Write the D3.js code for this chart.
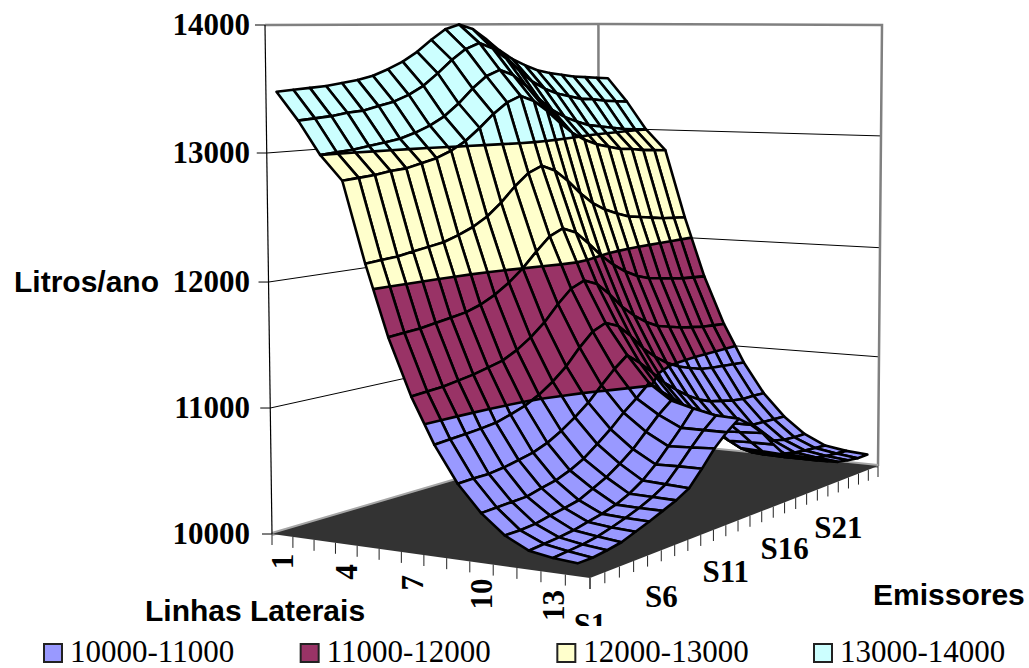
<!DOCTYPE html>
<html>
<head>
<meta charset="utf-8">
<script src="https://cdnjs.cloudflare.com/ajax/libs/d3/7.8.5/d3.min.js"></script>
<style>
  html, body { margin: 0; padding: 0; background: #fff; }
  svg { display: block; }
  .num { font-family: "Liberation Serif", "Times New Roman", serif; }
  .title { font-family: "Liberation Sans", Arial, sans-serif; font-weight: bold; }
</style>
</head>
<body>
<svg id="chart" width="1029" height="668"></svg>
<script>
// Litres per year for each lateral line (rows) and emitter position (columns S1..S25)
const lines = d3.range(1, 15);
const emitters = d3.range(1, 26);
const lineLabels = [1, 4, 7, 10, 13];
const emitterLabels = [1, 6, 11, 16, 21];
const valueTicks = [10000, 11000, 12000, 13000, 14000];
const bandNames = ["10000-11000", "11000-12000", "12000-13000", "13000-14000"];
const bandColors = ["#9999FF", "#993366", "#FFFFCC", "#CCFFFF"];

const litres = [
  [13480,13490,13500,13510,13530,13550,13580,13630,13690,13770,13870,13960,14000,13960,13870,13770,13690,13630,13580,13550,13530,13510,13500,13490,13480],
  [13260,13270,13280,13300,13310,13340,13370,13420,13490,13590,13700,13790,13840,13790,13700,13590,13490,13420,13370,13340,13310,13300,13280,13270,13260],
  [13000,13010,13020,13040,13060,13080,13120,13170,13240,13340,13460,13560,13610,13560,13460,13340,13240,13170,13120,13080,13060,13040,13020,13010,13000],
  [12810,12820,12830,12850,12860,12890,12920,12970,13040,13140,13250,13340,13390,13340,13250,13140,13040,12970,12920,12890,12860,12850,12830,12820,12810],
  [12190,12200,12210,12230,12250,12270,12310,12360,12430,12530,12650,12750,12800,12750,12650,12530,12430,12360,12310,12270,12250,12230,12210,12200,12190],
  [11640,11650,11660,11680,11700,11720,11760,11820,11900,12000,12120,12230,12280,12230,12120,12000,11900,11820,11760,11720,11700,11680,11660,11650,11640],
  [11200,11210,11220,11240,11260,11290,11320,11380,11460,11560,11690,11800,11850,11800,11690,11560,11460,11380,11320,11290,11260,11240,11220,11210,11200],
  [10850,10860,10870,10880,10895,10930,10970,11030,11110,11210,11340,11450,11500,11450,11340,11210,11110,11030,10970,10930,10895,10880,10870,10860,10850],
  [10575,10580,10580,10595,10620,10645,10690,10755,10835,10925,11040,11150,11240,11150,11040,10925,10835,10755,10690,10645,10620,10595,10580,10580,10575],
  [10375,10380,10385,10390,10420,10445,10490,10550,10635,10725,10830,10920,11020,10920,10830,10725,10635,10550,10490,10445,10420,10390,10385,10380,10375],
  [10230,10230,10240,10265,10285,10310,10365,10420,10495,10580,10690,10800,10890,10800,10690,10580,10495,10420,10365,10310,10285,10265,10240,10230,10230],
  [10140,10150,10160,10175,10200,10225,10260,10310,10380,10475,10590,10710,10840,10710,10590,10475,10380,10310,10260,10225,10200,10175,10160,10150,10140],
  [10110,10120,10130,10150,10180,10215,10255,10305,10370,10480,10600,10710,10800,10710,10600,10480,10370,10305,10255,10215,10180,10150,10130,10120,10110],
  [10095,10095,10110,10130,10170,10210,10255,10300,10360,10480,10610,10710,10790,10710,10610,10480,10360,10300,10255,10210,10170,10130,10110,10095,10095]
];

// Floor corners of the 3D box on screen and the box height above each corner
const floorLeft = [272, 534], floorFront = [590, 578], floorBack = [599, 438], floorRight = [878, 466];
const heightLeft = 509, heightFront = 552, heightBack = 414, heightRight = 441;
const vanishX = 637, verticalConvergence = 1 / 26500;

// Unit square to quadrilateral homography for the floor plane
function floorHomography(p00, p10, p11, p01) {
  const dx1 = p10[0] - p11[0], dx2 = p01[0] - p11[0], sx = p00[0] - p10[0] + p11[0] - p01[0];
  const dy1 = p10[1] - p11[1], dy2 = p01[1] - p11[1], sy = p00[1] - p10[1] + p11[1] - p01[1];
  const det = dx1 * dy2 - dx2 * dy1;
  const g = (sx * dy2 - dx2 * sy) / det, h = (dx1 * sy - sx * dy1) / det;
  const a = p10[0] - p00[0] + g * p10[0], b = p01[0] - p00[0] + h * p01[0], c = p00[0];
  const d = p10[1] - p00[1] + g * p10[1], e = p01[1] - p00[1] + h * p01[1], f = p00[1];
  return (u, v) => {
    const w = g * u + h * v + 1;
    return [(a * u + b * v + c) / w, (d * u + e * v + f) / w];
  };
}
const onFloor = floorHomography(floorLeft, floorFront, floorRight, floorBack);

// Lateral lines sit in the middle of their cells, emitters run edge to edge
const uScale = d3.scaleLinear().domain([0.5, 14.5]).range([0, 1]);
const vScale = d3.scaleLinear().domain([1, 25]).range([0, 1]);
// The height axis is very slightly foreshortened towards its middle
const zScale = d3.scaleLinear().domain(valueTicks).range([0, 0.2475, 0.495, 0.7485, 1]);

function project(line, emitter, value) {
  const u = uScale(line), v = vScale(emitter), z = zScale(value);
  const [fx, fy] = onFloor(u, v);
  const inv = (1 - u) * (1 - v) / heightLeft + u * (1 - v) / heightFront + (1 - u) * v / heightBack + u * v / heightRight;
  const h = 1 / inv;
  const lean = (fx - vanishX) * h * verticalConvergence;
  return [fx + lean * z, fy - h * z];
}

const svg = d3.select("#chart");
const path = d3.line();
const closed = pts => path(pts) + "Z";

// Walls: gridlines first, then the frame
const wall = svg.append("g");
const lastLine = 14.5, firstLine = 0.5;
[11000, 12000, 13000].forEach(t => {
  wall.append("path").attr("d", path([project(firstLine, 1, t), project(firstLine, 25, t), project(lastLine, 25, t)]))
    .attr("fill", "none").attr("stroke", "#000").attr("stroke-width", 1);
});
wall.append("path")
  .attr("d", path([project(firstLine, 1, 14000), project(firstLine, 25, 14000), project(lastLine, 25, 14000), project(lastLine, 25, 10000)]))
  .attr("fill", "none").attr("stroke", "#808080").attr("stroke-width", 2.5);
wall.append("path")
  .attr("d", path([project(firstLine, 25, 14000), project(firstLine, 25, 10000)]))
  .attr("fill", "none").attr("stroke", "#808080").attr("stroke-width", 2.5);

// Floor with its lighter back rim
const floorPts = [project(firstLine, 1, 10000), project(lastLine, 1, 10000), project(lastLine, 25, 10000), project(firstLine, 25, 10000)];
svg.append("path").attr("d", path([floorPts[0], floorPts[3], floorPts[2]]))
  .attr("fill", "none").attr("stroke", "#a6a6a6").attr("stroke-width", 4);
svg.append("path").attr("d", closed(floorPts)).attr("fill", "#333333");

// Value axis
const axis = svg.append("g");
axis.append("path").attr("d", path([project(firstLine, 1, 14000), project(firstLine, 1, 10000)]))
  .attr("stroke", "#000").attr("stroke-width", 1.2).attr("fill", "none");
valueTicks.forEach(t => {
  const [x, y] = project(firstLine, 1, t);
  axis.append("line").attr("x1", x - 10).attr("x2", x).attr("y1", y).attr("y2", y).attr("stroke", "#000");
  axis.append("text").attr("class", "num").attr("x", 250).attr("y", y + 10)
    .attr("text-anchor", "end").attr("font-size", 31).attr("font-weight", "bold").text(t);
});

// Tick marks along the two floor edges
const ticks = svg.append("g").attr("stroke", "#222").attr("stroke-width", 1);
d3.range(0, 15).forEach(i => {
  const [x, y] = project(i + 0.5, 1, 10000);
  ticks.append("line").attr("x1", x).attr("x2", x).attr("y1", y).attr("y2", y + 11);
});
emitters.forEach(s => {
  const [x, y] = project(lastLine, s, 10000);
  ticks.append("line").attr("x1", x).attr("x2", x).attr("y1", y).attr("y2", y + 11);
});

// Surface cells painted from the far corner towards the viewer, split by value band
const levels = d3.range(4).map(i => [valueTicks[i], valueTicks[i + 1]]);

function clipToBand(poly, lo, hi) {
  const clip = (pts, inside, level) => {
    const out = [];
    pts.forEach((p, i) => {
      const q = pts[(i + 1) % pts.length];
      const pin = inside(p[2]), qin = inside(q[2]);
      if (pin) out.push(p);
      if (pin !== qin) {
        const t = (level - p[2]) / (q[2] - p[2]);
        out.push([p[0] + t * (q[0] - p[0]), p[1] + t * (q[1] - p[1]), level]);
      }
    });
    return out;
  };
  const a = clip(poly, z => z >= lo, lo);
  return a.length ? clip(a, z => z <= hi, hi) : a;
}

function crossings(poly, level) {
  const pts = [];
  poly.forEach((p, i) => {
    const q = poly[(i + 1) % poly.length];
    if ((p[2] < level) !== (q[2] < level)) {
      const t = (level - p[2]) / (q[2] - p[2]);
      pts.push([p[0] + t * (q[0] - p[0]), p[1] + t * (q[1] - p[1])]);
    }
  });
  return pts;
}

const cells = [];
d3.range(0, lines.length - 1).forEach(r => {
  d3.range(emitters.length - 2, -1, -1).forEach(c => {
    const corner = (ri, ci) => {
      const value = litres[ri][ci];
      return [...project(lines[ri], emitters[ci], value), value];
    };
    cells.push([corner(r, c), corner(r + 1, c), corner(r + 1, c + 1), corner(r, c + 1)]);
  });
});

const surface = svg.append("g").selectAll("g").data(cells).join("g");
surface.each(function (poly) {
  const g = d3.select(this);
  levels.forEach(([lo, hi], i) => {
    const piece = clipToBand(poly, lo, hi);
    if (piece.length > 2) {
      g.append("path").attr("d", closed(piece.map(p => [p[0], p[1]])))
        .attr("fill", bandColors[i]).attr("stroke", bandColors[i]).attr("stroke-width", 0.6);
    }
  });
  [11000, 12000, 13000].forEach(level => {
    const pts = crossings(poly, level);
    for (let k = 0; k + 1 < pts.length; k += 2) {
      g.append("path").attr("d", path([pts[k], pts[k + 1]]))
        .attr("fill", "none").attr("stroke", "#000").attr("stroke-width", 2.6);
    }
  });
  g.append("path").attr("d", closed(poly.map(p => [p[0], p[1]])))
    .attr("fill", "none").attr("stroke", "#000").attr("stroke-width", 2.6).attr("stroke-linejoin", "round");
});

// Category labels under the floor edges
lineLabels.forEach(l => {
  const [x, y] = project(l, 1, 10000);
  const cy = y + 26 + (l - 1) * 0.55;
  svg.append("text").attr("class", "num").attr("font-size", 31).attr("font-weight", "bold")
    .attr("text-anchor", "middle").attr("dominant-baseline", "central")
    .attr("transform", `translate(${x},${cy}) rotate(-90)`).text(l);
});
emitterLabels.forEach(s => {
  const [x, y] = project(lastLine, s, 10000);
  svg.append("text").attr("class", "num").attr("font-size", 31).attr("font-weight", "bold")
    .attr("text-anchor", "middle").attr("x", x).attr("y", y + 57).text("S" + s);
});

// The legend strip hides whatever runs below the plot area
svg.append("rect").attr("x", 0).attr("y", 626).attr("width", 1029).attr("height", 42).attr("fill", "#fff");

// Axis titles
svg.append("text").attr("class", "title").attr("x", 14).attr("y", 292).attr("font-size", 30).text("Litros/ano");
svg.append("text").attr("class", "title").attr("x", 145).attr("y", 621).attr("font-size", 30).text("Linhas Laterais");
svg.append("text").attr("class", "title").attr("x", 873).attr("y", 605).attr("font-size", 30).text("Emissores");

// Legend
const legendX = d3.scalePoint().domain(bandNames).range([43, 813]);
const legend = svg.append("g").selectAll("g").data(bandNames).join("g")
  .attr("transform", d => `translate(${legendX(d)},643)`);
legend.append("rect").attr("x", 1).attr("y", 1).attr("width", 18).attr("height", 18)
  .attr("fill", (d, i) => bandColors[i]).attr("stroke", "#222").attr("stroke-width", 2);
legend.append("text").attr("class", "num").attr("x", 27).attr("y", 19).attr("font-size", 31).text(d => d);
</script>
</body>
</html>
